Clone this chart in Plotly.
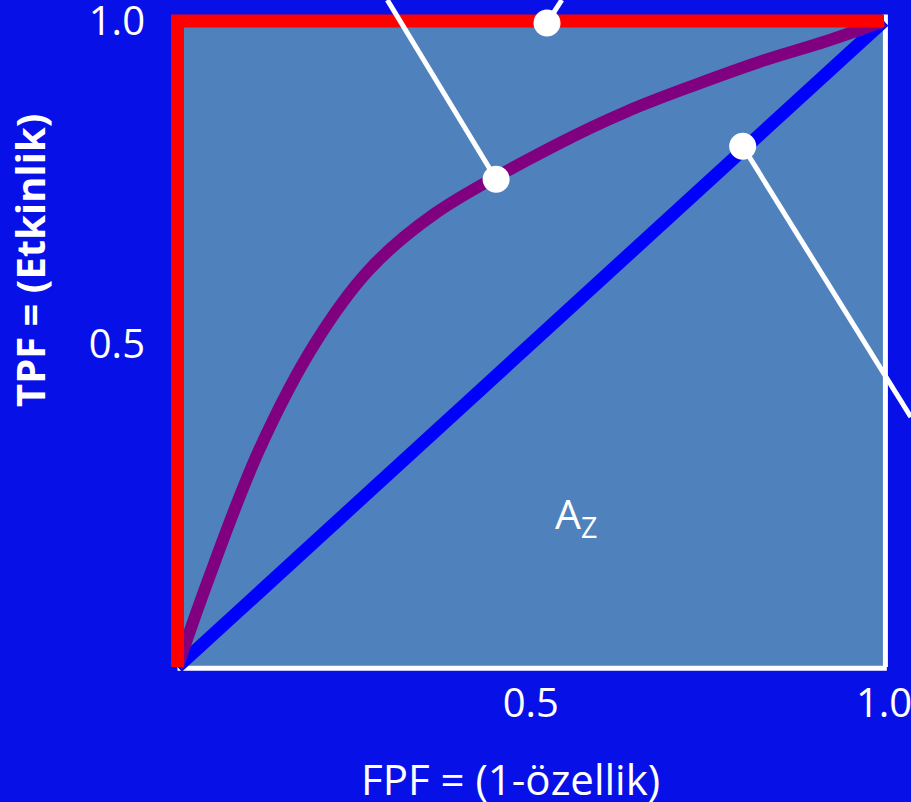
import plotly.graph_objects as go

# ROC curve (FPF vs TPF)
roc_fpf = [0.0, 0.0418, 0.1155, 0.1946, 0.271, 0.3645, 0.541, 0.636, 0.730, 0.8245,
           0.919, 1.0]
roc_tpf = [0.0, 0.130, 0.336, 0.501, 0.6146, 0.702, 0.811, 0.860, 0.900, 0.937,
           0.969, 1.0]

# chance line and perfect test
chance_x = [0.0, 1.0]
chance_y = [0.0, 1.0]
perfect_x = [0.0, 0.0, 1.0]
perfect_y = [0.0, 1.0, 1.0]

# pointer lines: dot on a curve -> end outside the box
callout_dot_x = [0.451, 0.523, 0.800]
callout_dot_y = [0.755, 0.997, 0.806]
callout_end_x = [0.297, 0.544, 1.038]
callout_end_y = [1.0325, 1.0325, 0.387]

tick_vals = [0.5, 1.0]
tick_text = ['0.5', '1.0']

bg = '#0810E8'
box = '#4F81BD'
font = 'Open Sans'

fig = go.Figure()

# plot area fill and white frame (bottom/right)
fig.add_shape(type='rect', x0=0, x1=1, y0=0, y1=1, fillcolor=box,
              line=dict(width=0), layer='below')
fig.add_shape(type='line', x0=0, x1=1.004, y0=-0.002, y1=-0.002,
              line=dict(color='white', width=5), layer='below')
fig.add_shape(type='line', x0=1.002, x1=1.002, y0=0, y1=1.01,
              line=dict(color='white', width=5), layer='below')

fig.add_trace(go.Scatter(x=chance_x, y=chance_y, mode='lines',
                         line=dict(color='#0000FF', width=13)))
fig.add_trace(go.Scatter(x=roc_fpf, y=roc_tpf, mode='lines',
                         line=dict(color='#800080', width=12, shape='spline',
                                   smoothing=1.0)))
fig.add_trace(go.Scatter(x=perfect_x, y=perfect_y, mode='lines',
                         line=dict(color='#FF0000', width=13)))

# callouts
for i in range(len(callout_dot_x)):
    fig.add_trace(go.Scatter(x=[callout_dot_x[i], callout_end_x[i]],
                             y=[callout_dot_y[i], callout_end_y[i]],
                             mode='lines', line=dict(color='white', width=5)))
fig.add_trace(go.Scatter(x=callout_dot_x, y=callout_dot_y, mode='markers',
                         marker=dict(color='white', size=27), cliponaxis=False))

fig.add_annotation(x=0.564, y=0.235, text='A<sub>Z</sub>', showarrow=False,
                   font=dict(family=font, size=41, color='white'))
# axis titles placed by hand (not centred on the box in the slide)
fig.add_annotation(xref='paper', yref='paper', x=0.467, y=-0.151,
                   xanchor='center', yanchor='middle',
                   text='FPF = (1-özellik)', showarrow=False,
                   font=dict(family=font, size=42, color='white'))
fig.add_annotation(xref='paper', yref='paper', x=-0.173, y=0.614,
                   xanchor='center', yanchor='middle',
                   text='<b>TPF = (Etkinlik)</b>', showarrow=False, textangle=-90,
                   font=dict(family=font, size=40, color='white'))

fig.update_xaxes(range=[-0.02477, 1.03822], tickvals=tick_vals, ticktext=tick_text,
                 showgrid=False, zeroline=False, showline=False, ticks='',
                 automargin=False,
                 ticklabelstandoff=0, ticklabeloverflow='allow',
                 tickfont=dict(family=font, size=40, color='white'))
fig.update_yaxes(range=[-0.0139, 1.0325], tickvals=tick_vals, ticktext=tick_text,
                 showgrid=False, zeroline=False, showline=False, ticks='',
                 automargin=False,
                 ticklabelstandoff=14, ticklabeloverflow='allow',
                 tickfont=dict(family=font, size=40, color='white'))

fig.update_layout(width=911, height=802, showlegend=False,
                  paper_bgcolor=bg, plot_bgcolor=bg,
                  margin=dict(l=160, r=0, t=0, b=126))

# drop the browser's default page margin so the chart sits at 0,0
fig.write_html("out.html", config={'displayModeBar': False},
               post_script="document.body.style.margin='0';")
